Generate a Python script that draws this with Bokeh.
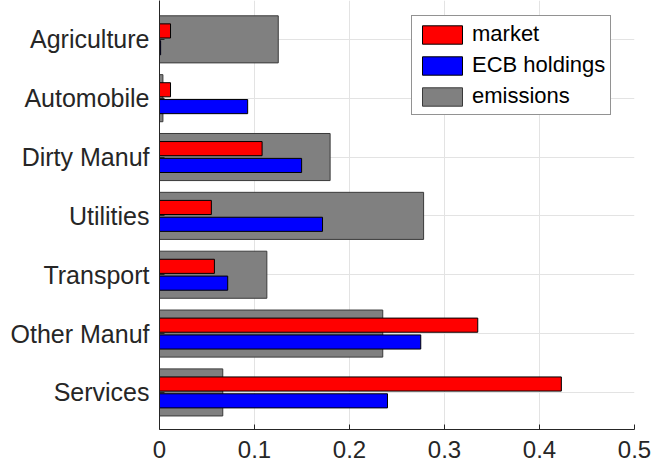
from bokeh.plotting import figure
from bokeh.models import Range1d, FixedTicker, NumeralTickFormatter, Legend, LegendItem, ColumnDataSource
from bokeh.embed import file_html
from bokeh.resources import INLINE

sectors = ["Agriculture", "Automobile", "Dirty Manuf", "Utilities", "Transport", "Other Manuf", "Services"]
market = [0.0116, 0.0116, 0.108, 0.0546, 0.0578, 0.335, 0.423]
ecb = [0.0012, 0.0928, 0.1496, 0.1716, 0.0718, 0.275, 0.240]
emissions = [0.125, 0.0036, 0.1796, 0.278, 0.113, 0.235, 0.0666]
x_ticks = [0, 0.1, 0.2, 0.3, 0.4, 0.5]

n = len(sectors)
ypos = [n - i for i in range(n)]
src = ColumnDataSource(dict(
    y=ypos,
    y_mk=[v + 0.143 for v in ypos],
    y_ecb=[v - 0.143 for v in ypos],
    market=market, ecb=ecb, emissions=emissions,
))

FONT = "Liberation Sans"
p = figure(width=652, height=468, output_backend="svg", toolbar_location=None,
           x_range=Range1d(0, 0.5), y_range=Range1d(0.37, 7.66),
           min_border_left=159, min_border_right=18, min_border_top=0, min_border_bottom=39)
p.outline_line_color = None
p.background_fill_color = "white"

r_em = p.hbar(y="y", right="emissions", left=0, height=0.8, source=src,
              fill_color="#808080", line_color="#3a3a3a", line_width=1)
r_mk = p.hbar(y="y_mk", right="market", left=0, height=0.24, source=src,
              fill_color="#ff0000", line_color="black", line_width=1)
r_ecb = p.hbar(y="y_ecb", right="ecb", left=0, height=0.24, source=src,
               fill_color="#0000ff", line_color="black", line_width=1)

p.xaxis.ticker = FixedTicker(ticks=x_ticks)
p.xaxis.formatter = NumeralTickFormatter(format="0.[0]")
p.yaxis.ticker = FixedTicker(ticks=ypos)
p.yaxis.major_label_overrides = {v: s for v, s in zip(ypos, sectors)}

for ax in (p.xaxis[0], p.yaxis[0]):
    ax.axis_line_color = "#262626"
    ax.major_tick_line_color = "#262626"
    ax.major_tick_in = 5
    ax.major_tick_out = 0
    ax.minor_tick_line_color = None
    ax.major_label_text_font = FONT
    ax.major_label_text_color = "#262626"
p.xaxis.major_label_text_font_size = "24px"
p.yaxis.major_label_text_font_size = "25px"
p.xaxis.major_label_standoff = 11
p.yaxis.major_label_standoff = 10

p.xgrid.grid_line_color = "#e3e3e3"
p.ygrid.grid_line_color = "#e3e3e3"

legend = Legend(items=[
    LegendItem(label="market", renderers=[r_mk]),
    LegendItem(label="ECB holdings", renderers=[r_ecb]),
    LegendItem(label="emissions", renderers=[r_em]),
], location=(252, 314))
legend.label_text_font = FONT
legend.label_text_font_size = "22px"
legend.label_text_color = "black"
legend.glyph_width = 50
legend.glyph_height = 23
legend.label_height = 23
legend.label_standoff = 5
legend.spacing = 5
legend.padding = 5
legend.margin = 0
legend.border_line_color = "#262626"
legend.border_line_width = 1
legend.background_fill_alpha = 1
p.add_layout(legend)

open("out.html", "w").write(file_html(p, INLINE))
